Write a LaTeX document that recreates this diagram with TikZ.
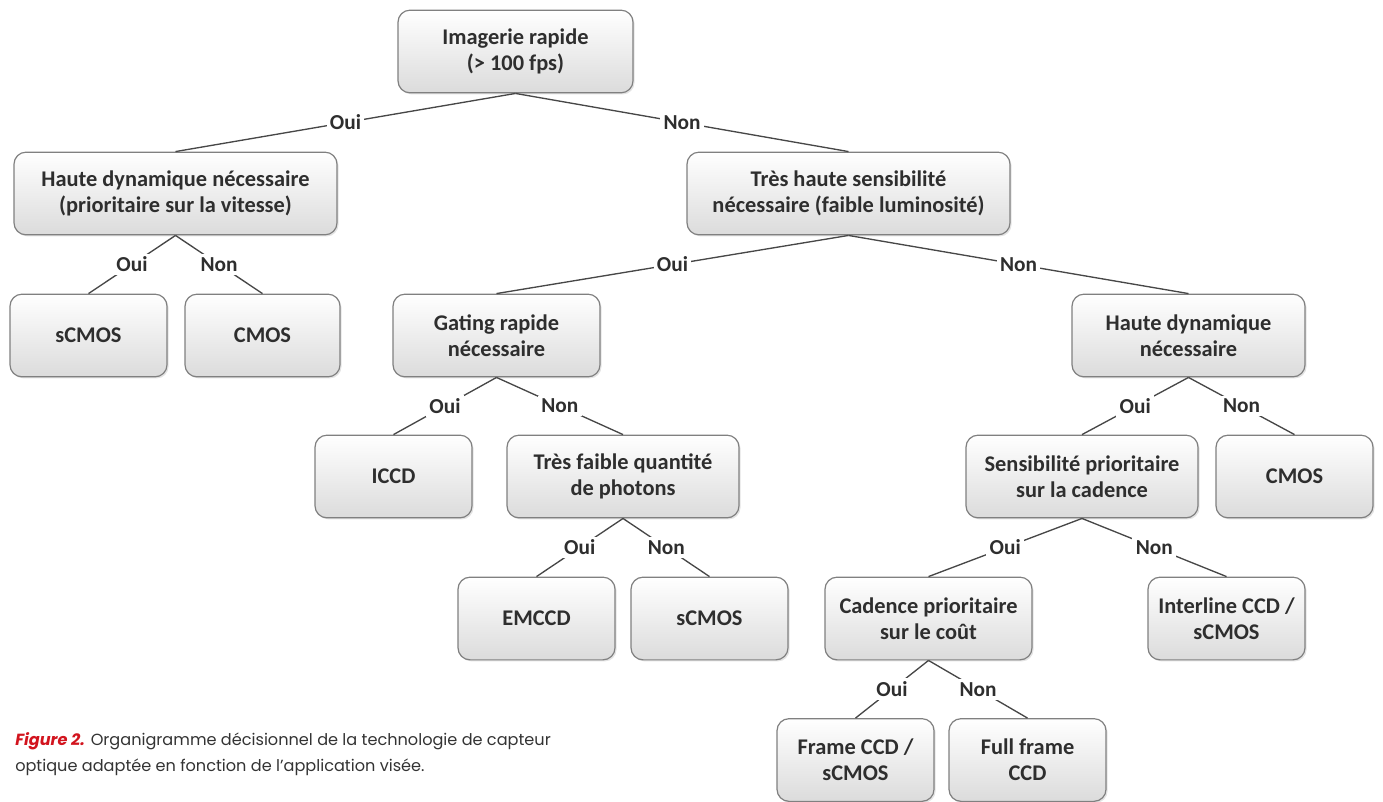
\documentclass[tikz,border=0pt]{standalone}
\usepackage{fontspec}
\setmainfont{Carlito}
\newfontfamily\capfont{Poppins}
\usetikzlibrary{shadows}
\definecolor{capred}{HTML}{D2141E}
\definecolor{txt}{HTML}{2E2E2E}
\begin{document}
\begin{tikzpicture}[x=0.75pt,y=-0.75pt,
  box/.style={draw=black!50, line width=0.9pt, rounded corners=9pt,
    top color=white, bottom color=black!14, minimum height=62pt,
    minimum width=#1, inner sep=0pt, align=center, text=txt,
    font=\fontsize{16.8}{19.5}\selectfont\bfseries,
    drop shadow={opacity=0.22, shadow xshift=1.2pt, shadow yshift=-1.2pt}},
  box/.default=117.75pt,
  lbl/.style={fill=white, inner sep=2.5pt, text=txt,
    font=\fontsize{16}{18}\selectfont\bfseries},
  conn/.style={draw=black!72, line width=1pt}]
\useasboundingbox (0,0) rectangle (1383,801);
% nodes
\node[box=176.25pt] (root) at (515.5,51.5) {Imagerie rapide\\(> 100 fps)};
\node[box=242.25pt] (hd1) at (175.5,193.5) {Haute dynamique nécessaire\\(prioritaire sur la vitesse)};
\node[box=242.25pt] (ths) at (848.5,193.5) {Très haute sensibilité\\nécessaire (faible luminosité)};
\node[box] (scm1) at (88.5,335.5) {sCMOS};
\node[box=116.25pt] (cmos1) at (262.5,335.5) {CMOS};
\node[box=155.25pt] (gat) at (496.5,335.5) {Gating rapide\\nécessaire};
\node[box=174.75pt] (hd2) at (1188.5,335.5) {Haute dynamique\\nécessaire};
\node[box] (iccd) at (393.5,476.5) {ICCD};
\node[box=174pt] (tfq) at (623,476.5) {Très faible quantité\\de photons};
\node[box=174pt] (sens) at (1082,476.5) {Sensibilité prioritaire\\sur la cadence};
\node[box] (cmos2) at (1294.5,476.5) {CMOS};
\node[box] (emccd) at (536.5,618.5) {EMCCD};
\node[box] (scm2) at (709.5,618.5) {sCMOS};
\node[box=155.25pt] (cad) at (928.5,618.5) {Cadence prioritaire\\sur le coût};
\node[box] (inter) at (1226.5,618.5) {Interline CCD /\\sCMOS};
\node[box] (frame) at (855.5,760) {Frame CCD /\\sCMOS};
\node[box] (full) at (1027.5,760) {Full frame\\CCD};
% connectors
\path[conn] (root.south) -- node[lbl]{Oui} (hd1.north);
\path[conn] (root.south) -- node[lbl]{Non} (ths.north);
\path[conn] (hd1.south) -- node[lbl]{Oui} (scm1.north);
\path[conn] (hd1.south) -- node[lbl]{Non} (cmos1.north);
\path[conn] (ths.south) -- node[lbl]{Oui} (gat.north);
\path[conn] (ths.south) -- node[lbl]{Non} (hd2.north);
\path[conn] (gat.south) -- node[lbl]{Oui} (iccd.north);
\path[conn] (gat.south) -- node[lbl]{Non} (tfq.north);
\path[conn] (tfq.south) -- node[lbl]{Oui} (emccd.north);
\path[conn] (tfq.south) -- node[lbl]{Non} (scm2.north);
\path[conn] (hd2.south) -- node[lbl]{Oui} (sens.north);
\path[conn] (hd2.south) -- node[lbl]{Non} (cmos2.north);
\path[conn] (sens.south) -- node[lbl]{Oui} (cad.north);
\path[conn] (sens.south) -- node[lbl]{Non} (inter.north);
\path[conn] (cad.south) -- node[lbl]{Oui} (frame.north);
\path[conn] (cad.south) -- node[lbl]{Non} (full.north);
% caption
\node[anchor=north west, align=left, inner sep=0pt, text=black!80,
  font=\capfont\fontsize{12.1}{19.5}\selectfont] (cap) at (15,732)
  {{\color{capred}\bfseries\itshape Figure 2.} Organigramme décisionnel de la technologie de capteur\\optique adaptée en fonction de l’application visée.};
\end{tikzpicture}
\end{document}
